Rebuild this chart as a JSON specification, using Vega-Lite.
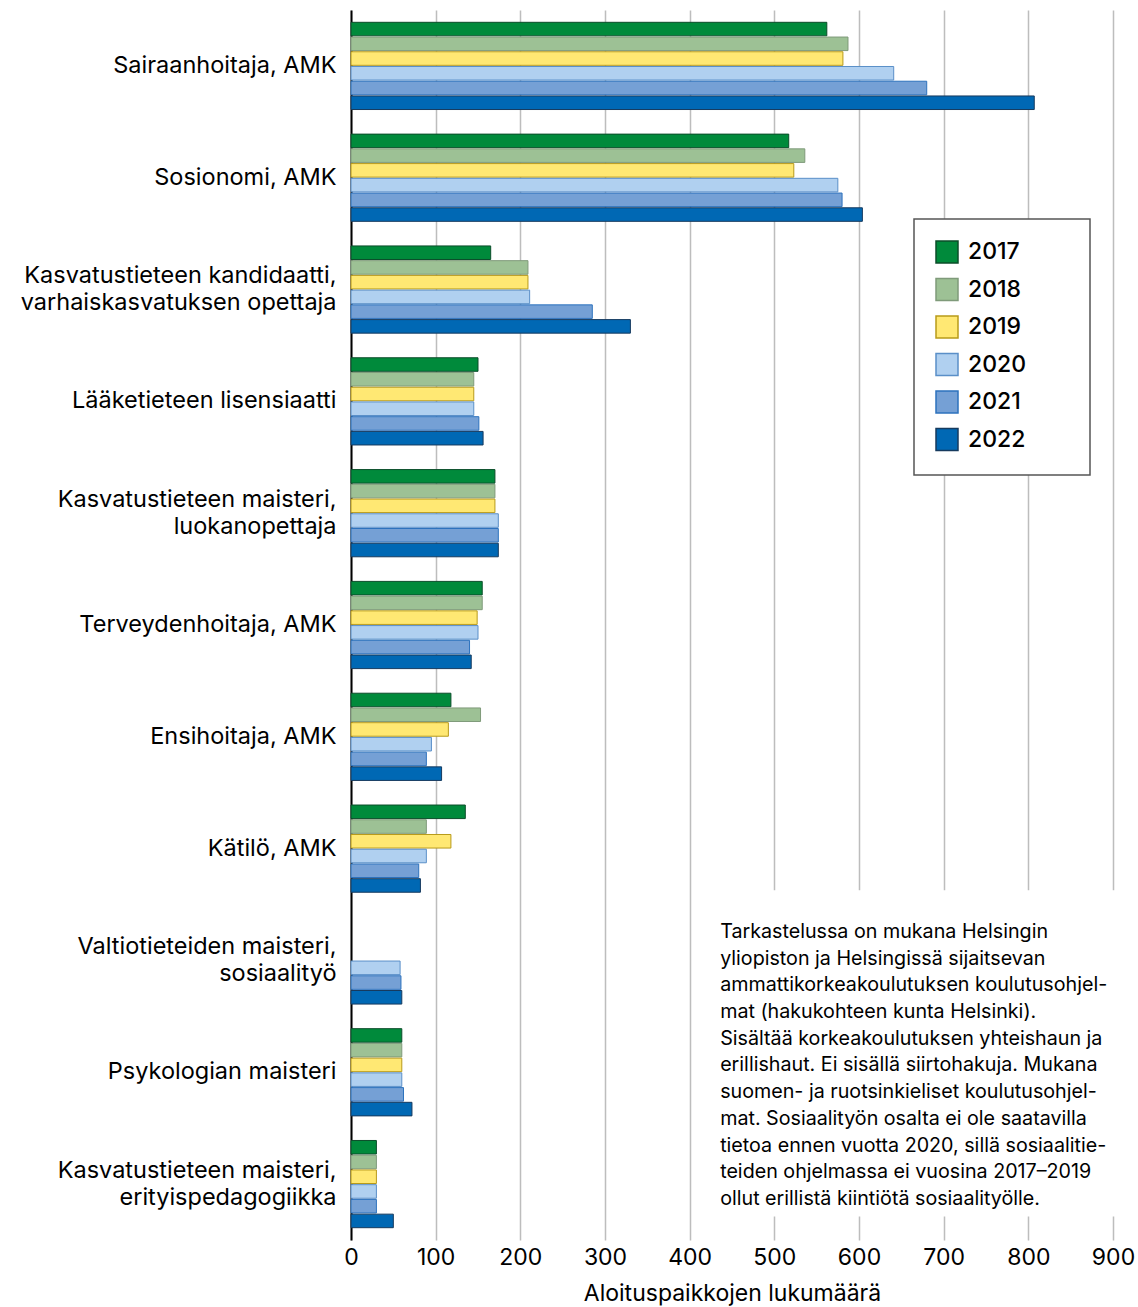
{
  "$schema": "https://vega.github.io/schema/vega-lite/v6.json",
  "width": 762,
  "height": 1230,
  "autosize": {"type": "none"},
  "padding": {"left": 351, "top": 10, "right": 25, "bottom": 67},
  "background": "white",
  "config": {"font": "Inter", "view": {"stroke": null}, "legend": {"strokeWidth": 1.5}},
  "data": {"values": [
    {"c": "Sairaanhoitaja, AMK", "year": "2017", "v": 562},
    {"c": "Sairaanhoitaja, AMK", "year": "2018", "v": 587},
    {"c": "Sairaanhoitaja, AMK", "year": "2019", "v": 581},
    {"c": "Sairaanhoitaja, AMK", "year": "2020", "v": 641},
    {"c": "Sairaanhoitaja, AMK", "year": "2021", "v": 680},
    {"c": "Sairaanhoitaja, AMK", "year": "2022", "v": 807},
    {"c": "Sosionomi, AMK", "year": "2017", "v": 517},
    {"c": "Sosionomi, AMK", "year": "2018", "v": 536},
    {"c": "Sosionomi, AMK", "year": "2019", "v": 523},
    {"c": "Sosionomi, AMK", "year": "2020", "v": 575},
    {"c": "Sosionomi, AMK", "year": "2021", "v": 580},
    {"c": "Sosionomi, AMK", "year": "2022", "v": 604},
    {"c": "Kasvatustieteen kandidaatti, varhaiskasvatuksen opettaja", "year": "2017", "v": 165},
    {"c": "Kasvatustieteen kandidaatti, varhaiskasvatuksen opettaja", "year": "2018", "v": 209},
    {"c": "Kasvatustieteen kandidaatti, varhaiskasvatuksen opettaja", "year": "2019", "v": 209},
    {"c": "Kasvatustieteen kandidaatti, varhaiskasvatuksen opettaja", "year": "2020", "v": 211},
    {"c": "Kasvatustieteen kandidaatti, varhaiskasvatuksen opettaja", "year": "2021", "v": 285},
    {"c": "Kasvatustieteen kandidaatti, varhaiskasvatuksen opettaja", "year": "2022", "v": 330},
    {"c": "Lääketieteen lisensiaatti", "year": "2017", "v": 150},
    {"c": "Lääketieteen lisensiaatti", "year": "2018", "v": 145},
    {"c": "Lääketieteen lisensiaatti", "year": "2019", "v": 145},
    {"c": "Lääketieteen lisensiaatti", "year": "2020", "v": 145},
    {"c": "Lääketieteen lisensiaatti", "year": "2021", "v": 151},
    {"c": "Lääketieteen lisensiaatti", "year": "2022", "v": 156},
    {"c": "Kasvatustieteen maisteri, luokanopettaja", "year": "2017", "v": 170},
    {"c": "Kasvatustieteen maisteri, luokanopettaja", "year": "2018", "v": 170},
    {"c": "Kasvatustieteen maisteri, luokanopettaja", "year": "2019", "v": 170},
    {"c": "Kasvatustieteen maisteri, luokanopettaja", "year": "2020", "v": 174},
    {"c": "Kasvatustieteen maisteri, luokanopettaja", "year": "2021", "v": 174},
    {"c": "Kasvatustieteen maisteri, luokanopettaja", "year": "2022", "v": 174},
    {"c": "Terveydenhoitaja, AMK", "year": "2017", "v": 155},
    {"c": "Terveydenhoitaja, AMK", "year": "2018", "v": 155},
    {"c": "Terveydenhoitaja, AMK", "year": "2019", "v": 149},
    {"c": "Terveydenhoitaja, AMK", "year": "2020", "v": 150},
    {"c": "Terveydenhoitaja, AMK", "year": "2021", "v": 140},
    {"c": "Terveydenhoitaja, AMK", "year": "2022", "v": 142},
    {"c": "Ensihoitaja, AMK", "year": "2017", "v": 118},
    {"c": "Ensihoitaja, AMK", "year": "2018", "v": 153},
    {"c": "Ensihoitaja, AMK", "year": "2019", "v": 115},
    {"c": "Ensihoitaja, AMK", "year": "2020", "v": 95},
    {"c": "Ensihoitaja, AMK", "year": "2021", "v": 89},
    {"c": "Ensihoitaja, AMK", "year": "2022", "v": 107},
    {"c": "Kätilö, AMK", "year": "2017", "v": 135},
    {"c": "Kätilö, AMK", "year": "2018", "v": 89},
    {"c": "Kätilö, AMK", "year": "2019", "v": 118},
    {"c": "Kätilö, AMK", "year": "2020", "v": 89},
    {"c": "Kätilö, AMK", "year": "2021", "v": 80},
    {"c": "Kätilö, AMK", "year": "2022", "v": 82},
    {"c": "Valtiotieteiden maisteri, sosiaalityö", "year": "2020", "v": 58},
    {"c": "Valtiotieteiden maisteri, sosiaalityö", "year": "2021", "v": 59},
    {"c": "Valtiotieteiden maisteri, sosiaalityö", "year": "2022", "v": 60},
    {"c": "Psykologian maisteri", "year": "2017", "v": 60},
    {"c": "Psykologian maisteri", "year": "2018", "v": 60},
    {"c": "Psykologian maisteri", "year": "2019", "v": 60},
    {"c": "Psykologian maisteri", "year": "2020", "v": 60},
    {"c": "Psykologian maisteri", "year": "2021", "v": 62},
    {"c": "Psykologian maisteri", "year": "2022", "v": 72},
    {"c": "Kasvatustieteen maisteri, erityispedagogiikka", "year": "2017", "v": 30},
    {"c": "Kasvatustieteen maisteri, erityispedagogiikka", "year": "2018", "v": 30},
    {"c": "Kasvatustieteen maisteri, erityispedagogiikka", "year": "2019", "v": 30},
    {"c": "Kasvatustieteen maisteri, erityispedagogiikka", "year": "2020", "v": 30},
    {"c": "Kasvatustieteen maisteri, erityispedagogiikka", "year": "2021", "v": 30},
    {"c": "Kasvatustieteen maisteri, erityispedagogiikka", "year": "2022", "v": 50}
  ]},
  "layer": [
    {
      "mark": {"type": "bar", "strokeWidth": 1},
      "encoding": {
        "y": {
          "field": "c", "type": "nominal", "sort": null,
          "scale": {
            "domain": ["Sairaanhoitaja, AMK", "Sosionomi, AMK", "Kasvatustieteen kandidaatti, varhaiskasvatuksen opettaja", "Lääketieteen lisensiaatti", "Kasvatustieteen maisteri, luokanopettaja", "Terveydenhoitaja, AMK", "Ensihoitaja, AMK", "Kätilö, AMK", "Valtiotieteiden maisteri, sosiaalityö", "Psykologian maisteri", "Kasvatustieteen maisteri, erityispedagogiikka"],
            "paddingInner": 0.22, "paddingOuter": 0.11
          },
          "axis": {
            "title": null, "ticks": false, "domain": true, "domainColor": "black", "domainWidth": 2,
            "labelFontSize": 23.5, "labelColor": "black", "labelPadding": 15, "labelLimit": 400,
            "labelLineHeight": 27, "labelAlign": "right", "labelBaseline": "middle",
            "labelOffset": {"condition": {"test": "indexof(datum.label, ', ') > 0 && indexof(datum.label, 'AMK') < 0", "value": -13.5}, "value": 0},
            "labelExpr": "indexof(datum.label, ', ') > 0 && indexof(datum.label, 'AMK') < 0 ? [split(datum.label, ', ')[0] + ',', split(datum.label, ', ')[1]] : datum.label"
          }
        },
        "yOffset": {
          "field": "year", "type": "nominal",
          "scale": {"domain": ["2017", "2018", "2019", "2020", "2021", "2022"], "paddingInner": 0.08}
        },
        "x": {
          "field": "v", "type": "quantitative",
          "scale": {"domain": [0, 900], "nice": false},
          "axis": {
            "values": [0, 100, 200, 300, 400, 500, 600, 700, 800, 900],
            "title": "Aloituspaikkojen lukumäärä", "titleFontSize": 23, "titleFontWeight": "normal",
            "titleColor": "black", "titlePadding": 13,
            "labelFontSize": 23, "labelColor": "black", "labelPadding": 6, "labelFlush": false,
            "ticks": false, "domain": false, "grid": true, "gridColor": "#bdbdbd", "gridWidth": 1.5
          }
        },
        "color": {
          "field": "year", "type": "nominal",
          "scale": {"domain": ["2017", "2018", "2019", "2020", "2021", "2022"],
                    "range": ["#008a3b", "#9dc195", "#ffe873", "#b0d0f0", "#75a0d5", "#0068b4"]},
          "legend": {
            "title": null, "orient": "none", "legendX": 563, "legendY": 209,
            "symbolType": "square", "symbolSize": 484, "symbolStrokeWidth": 1.5,
            "labelFontSize": 23, "labelFontWeight": 500, "labelColor": "black", "labelOffset": 9,
            "rowPadding": 9.5, "padding": 21, "fillColor": "white", "strokeColor": "#555555",
            "labelExpr": "datum.label + '\u00a0\u00a0\u00a0\u00a0\u00a0\u00a0\u00a0\u200b'"
          }
        },
        "stroke": {
          "field": "year", "type": "nominal",
          "scale": {"domain": ["2017", "2018", "2019", "2020", "2021", "2022"],
                    "range": ["#0b4d2a", "#7f9a7a", "#b89a1a", "#5a8fc8", "#2d72bd", "#163a5e"]},
          "legend": null
        }
      }
    },
    {
      "data": {"values": [{}]},
      "mark": {"type": "rect", "fill": "white", "stroke": "white", "strokeWidth": 4},
      "encoding": {
        "x": {"datum": 415, "type": "quantitative"},
        "x2": {"datum": 900},
        "y": {"datum": "Kätilö, AMK", "bandPosition": 1},
        "y2": {"datum": "Kasvatustieteen maisteri, erityispedagogiikka", "bandPosition": 0.85}
      }
    },
    {
      "data": {"values": [{}]},
      "mark": {
        "type": "text", "align": "left", "baseline": "middle", "fontSize": 19.7, "lineHeight": 26.7,
        "color": "black", "dy": -28.5,
        "text": [
          "Tarkastelussa on mukana Helsingin",
          "yliopiston ja Helsingissä sijaitsevan",
          "ammattikorkeakoulutuksen koulutusohjel-",
          "mat (hakukohteen kunta Helsinki).",
          "Sisältää korkeakoulutuksen yhteishaun ja",
          "erillishaut. Ei sisällä siirtohakuja. Mukana",
          "suomen- ja ruotsinkieliset koulutusohjel-",
          "mat. Sosiaalityön osalta ei ole saatavilla",
          "tietoa ennen vuotta 2020, sillä sosiaalitie-",
          "teiden ohjelmassa ei vuosina 2017–2019",
          "ollut erillistä kiintiötä sosiaalityölle."
        ]
      },
      "encoding": {
        "x": {"datum": 436, "type": "quantitative"},
        "y": {"datum": "Valtiotieteiden maisteri, sosiaalityö"}
      }
    }
  ]
}
